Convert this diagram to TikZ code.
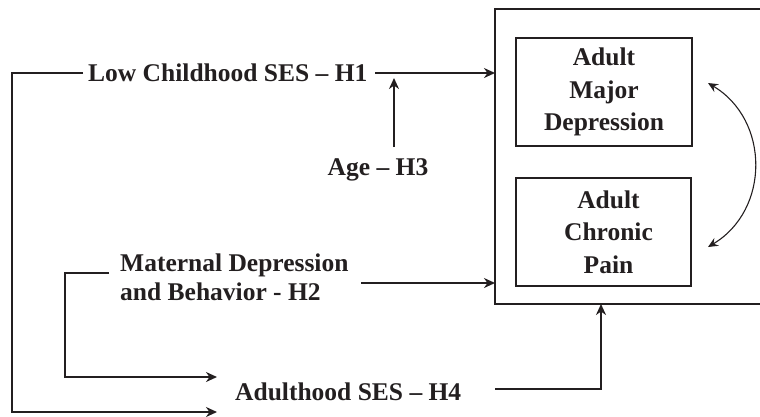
\documentclass[tikz,border=0pt]{standalone}
\usepackage{fontspec}
\setmainfont{Liberation Serif}
\usetikzlibrary{arrows.meta}
\definecolor{ink}{HTML}{231F20}
\begin{document}
\begin{tikzpicture}[x=1pt,y=-1pt,
  lbl/.style={font=\fontsize{25.5}{29}\bfseries\selectfont, inner sep=0pt, text=ink},
  boxlbl/.style={draw=ink, line width=1.8pt, font=\fontsize{25.5}{32.5}\bfseries\selectfont,
    align=center, text=ink, minimum width=176pt, minimum height=108pt, inner sep=0pt},
  ln/.style={draw=ink, line width=1.8pt},
  conn/.style={ln, -{Stealth[length=11pt,width=10pt,inset=3.5pt]}},
  bicurve/.style={draw=ink, line width=1.1pt, {Stealth[length=10pt,width=9pt,inset=3.5pt]}-{Stealth[length=10pt,width=9pt,inset=3.5pt]}}]
\useasboundingbox (0,0) rectangle (760,416);
% outer box (open on the right, cut by the page edge)
\coordinate (otl) at (495,9);
\coordinate (obl) at (495,304);
\draw[ln] (762,9) -- (otl) -- (obl) -- (762,304);
% inner boxes
\node[boxlbl] (dep) at (604,92) {\raisebox{3pt}{Adult}\\\raisebox{3pt}{Major}\\\raisebox{3pt}{Depression}};
\node[boxlbl, minimum width=175pt] (pain) at (603.5,232) {\raisebox{-2pt}{\hspace*{10pt}Adult}\\\raisebox{-2pt}{\hspace*{10pt}Chronic}\\\raisebox{-2pt}{\hspace*{10pt}Pain}};
% labels
\node[lbl, anchor=west] (ses) at (88,73) {Low Childhood SES – H1};
\node[lbl] (age) at (378,170) {Age – H3};
\node[lbl, anchor=west, align=left] (mat) at (120,277) {Maternal Depression\\and Behavior - H2};
\node[lbl, anchor=west] (adu) at (235,392) {Adulthood SES – H4};
% coordinates for connector ends
\coordinate (sesE) at (375,73);
\coordinate (boxH1) at (495,73);
\coordinate (ageTop) at (394,78);
\coordinate (ageBot) at (394,147);
\coordinate (matE) at (361,283);
\coordinate (boxH2) at (495,283);
\coordinate (matW) at (109,273);
\coordinate (aduIn1) at (217,377);
\coordinate (aduIn2) at (217,412);
\coordinate (aduE) at (495,389);
\coordinate (boxH4) at (601,304);
\coordinate (depR) at (708,83);
\coordinate (painR) at (708,247);
% connectors
\draw[conn] (sesE) -- (boxH1);
\draw[conn] (ageBot) -- (ageTop);
\draw[conn] (matE) -- (boxH2);
\draw[conn] (matW) -| (65,377) -- (aduIn1);
\draw[conn] ([xshift=-5pt]ses.west) -| (12,412) -- (aduIn2);
\draw[conn] (aduE) -| (boxH4);
\draw[bicurve] (depR) .. controls (770,120) and (770,210) .. (painR);
\end{tikzpicture}
\end{document}
